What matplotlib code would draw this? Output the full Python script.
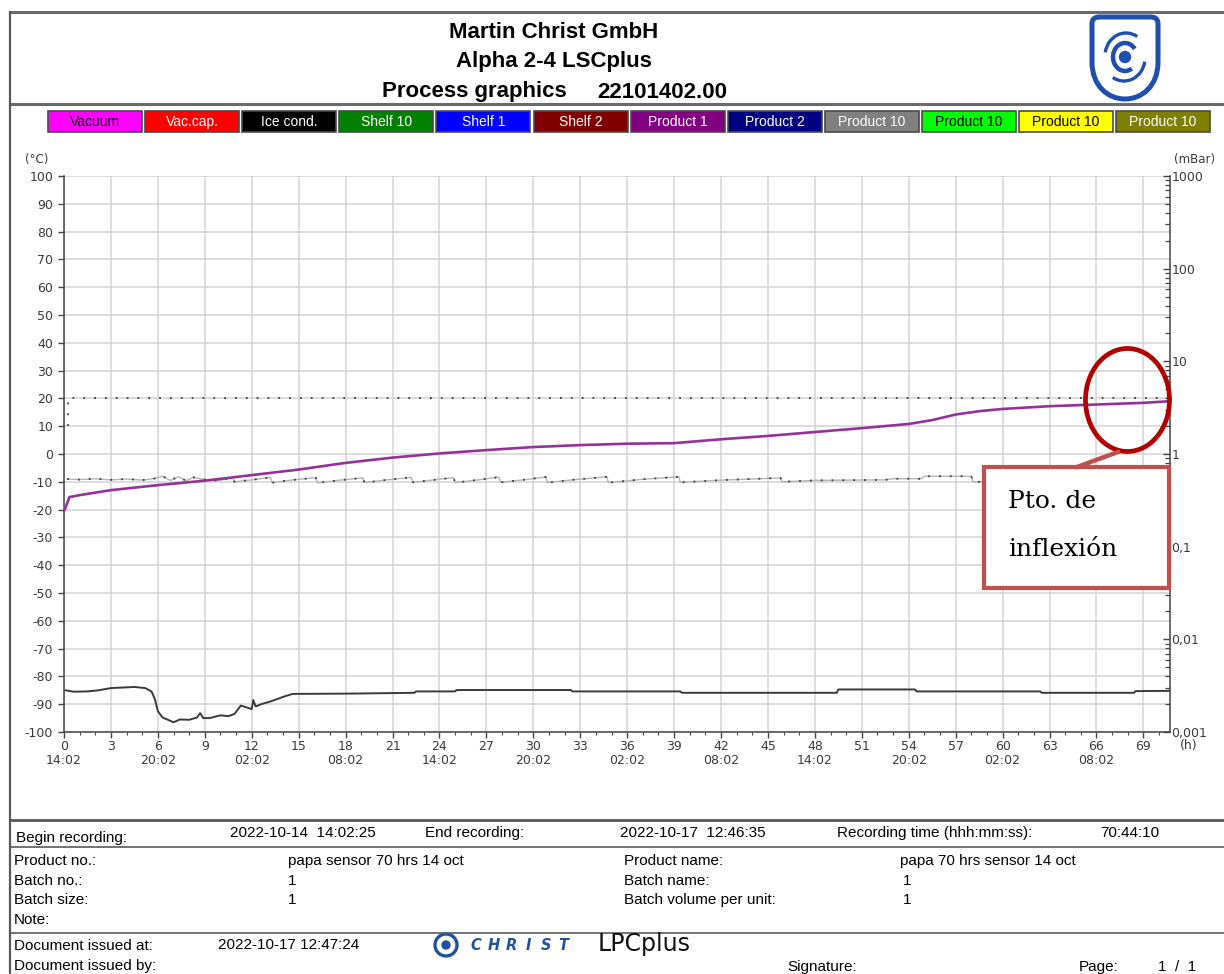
import matplotlib
matplotlib.use("Agg")
import matplotlib.pyplot as plt
from matplotlib.transforms import Affine2D
from matplotlib.lines import Line2D
from matplotlib.patches import Rectangle, Ellipse, Circle, Arc, PathPatch
from matplotlib.path import Path
from matplotlib.ticker import FixedLocator, LogLocator, NullFormatter, FuncFormatter

# ---------------- data ----------------
legend_names = ["Vacuum", "Vac.cap.", "Ice cond.", "Shelf 10", "Shelf 1", "Shelf 2",
                "Product 1", "Product 2", "Product 10", "Product 10", "Product 10", "Product 10"]
legend_colors = ["#FF00FF", "#FF0000", "#000000", "#008000", "#0000FF", "#800000",
                 "#800080", "#000080", "#808080", "#00FF00", "#FFFF00", "#808000"]
legend_text_colors = ["black", "white", "white", "white", "white", "white",
                      "white", "white", "white", "black", "black", "white"]

hour_ticks = list(range(0, 70, 3))
clock_labels = ["14:02", "20:02", "02:02", "08:02"]

product1_t = [0.05, 0.35, 1.0, 3.0, 6.0, 9.0, 12.0, 15.0, 18.0, 21.0, 24.0, 27.0, 30.0, 33.0,
              36.0, 39.0, 42.0, 45.0, 48.0, 51.0, 54.0, 55.5, 57.0, 58.5, 60.0, 63.0, 66.0,
              69.0, 70.7]
product1_v = [-20.0, -15.5, -14.8, -13.0, -11.2, -9.6, -7.6, -5.6, -3.2, -1.3, 0.2, 1.4, 2.5,
              3.2, 3.7, 3.9, 5.3, 6.5, 7.9, 9.3, 10.8, 12.2, 14.2, 15.4, 16.2, 17.2, 17.8,
              18.4, 19.0]

ice_t = [0.1, 0.6, 1.5, 2.2, 3.0, 4.5, 5.2, 5.6, 5.8, 6.0, 6.3, 6.6, 7.0, 7.4, 8.0, 8.5, 8.7,
         8.9, 9.3, 10.0, 10.5, 10.9, 11.3, 11.7, 12.0, 12.1, 12.25, 12.6, 13.2, 13.7, 14.1,
         14.6, 18.0, 21.0, 22.4, 22.5, 25.0, 25.1, 32.4, 32.5, 39.4, 39.5, 49.4, 49.5, 54.4,
         54.5, 62.4, 62.5, 68.4, 68.5, 70.7]
ice_v = [-85.0, -85.5, -85.4, -85.0, -84.2, -83.8, -84.2, -85.5, -88.0, -92.5, -94.8, -95.5,
         -96.5, -95.5, -95.6, -94.8, -93.2, -95.0, -95.0, -94.0, -94.3, -93.5, -90.5, -91.2,
         -91.8, -88.5, -90.8, -90.0, -89.0, -88.0, -87.2, -86.3, -86.2, -86.0, -85.9, -85.4,
         -85.4, -84.9, -84.9, -85.4, -85.4, -85.9, -85.9, -84.7, -84.7, -85.4, -85.4, -85.9,
         -85.9, -85.3, -85.2]

shelf_t = [0.2, 1.0, 2.0, 3.0, 4.0, 5.0, 5.8, 6.3, 6.8, 7.3, 7.8, 8.3, 9.0, 9.8, 10.8, 10.9,
           12.0, 13.2, 13.3, 14.5, 16.1, 16.2, 17.5, 19.1, 19.2, 20.5, 22.2, 22.3, 23.5, 24.9,
           25.0, 26.5, 27.8, 27.9, 29.5, 30.8, 30.9, 32.5, 34.7, 34.8, 37.0, 39.3, 39.4, 42.0,
           45.8, 45.9, 48.0, 52.5, 53.0, 54.8, 55.0, 58.0, 58.1, 70.7]
shelf_v = [-9.0, -9.2, -8.9, -9.3, -9.0, -9.4, -8.8, -8.0, -9.5, -8.2, -9.6, -8.4, -9.2, -9.6,
           -8.6, -10.0, -9.3, -8.4, -10.3, -9.4, -8.5, -10.4, -9.5, -8.6, -10.3, -9.4, -8.4,
           -10.2, -9.4, -8.5, -10.3, -9.3, -8.3, -10.2, -9.2, -8.3, -10.3, -9.3, -8.2, -10.3,
           -9.1, -8.2, -10.2, -9.4, -8.6, -10.0, -9.5, -9.3, -8.9, -8.9, -8.0, -8.0, -10.0,
           -10.0]

setpoint_t = [0.25, 0.25, 70.7]
setpoint_v = [10.0, 20.0, 20.0]

# ---------------- figure ----------------
W, H = 1224, 974
fig = plt.figure(figsize=(W / 100, H / 100), dpi=100)
fig.patch.set_facecolor("white")
px = Affine2D().scale(1 / W, -1 / H).translate(0, 1) + fig.transFigure

def hline(y, x0=10, x1=W, lw=1.5, color="#5a5a5a"):
    fig.add_artist(Line2D([x0, x1], [y, y], transform=px, lw=lw, color=color))

# page frame
hline(12, lw=2.2, color="#6a6a6a")
hline(104, lw=2.2, color="#6a6a6a")
hline(820, lw=2.0)
hline(847, lw=1.2)
hline(933, lw=1.2)
fig.add_artist(Line2D([10, 10], [12, H], transform=px, lw=1.6, color="#5a5a5a"))

# header
sans = "Liberation Sans"
fig.text(554, 33, "Martin Christ GmbH", transform=px, ha="center", va="center",
         fontsize=16, fontweight="bold", family=sans)
fig.text(554, 62, "Alpha 2-4 LSCplus", transform=px, ha="center", va="center",
         fontsize=16, fontweight="bold", family=sans)
fig.text(382, 92, "Process graphics", transform=px, ha="left", va="center",
         fontsize=16, fontweight="bold", family=sans)
fig.text(727, 92, "22101402.00", transform=px, ha="right", va="center",
         fontsize=16, fontweight="bold", family=sans)

# company shield
blue = "#1f4fae"
shield = Path([(1092, 24), (1092, 18), (1096, 17), (1100, 17), (1150, 17),
               (1154, 17), (1158, 18), (1158, 24), (1158, 62),
               (1158, 86), (1142, 99), (1125, 99), (1108, 99), (1092, 86), (1092, 62),
               (1092, 24)],
              [Path.MOVETO, Path.CURVE4, Path.CURVE4, Path.CURVE4, Path.LINETO,
               Path.CURVE4, Path.CURVE4, Path.CURVE4, Path.LINETO,
               Path.CURVE4, Path.CURVE4, Path.CURVE4, Path.CURVE4, Path.CURVE4, Path.CURVE4,
               Path.CLOSEPOLY])
fig.add_artist(PathPatch(shield, transform=px, facecolor="white", edgecolor=blue, lw=3.6))
fig.add_artist(Circle((1125, 57), 5.5, transform=px, color=blue))
fig.add_artist(Arc((1125, 57), 24, 28, theta1=60, theta2=320, transform=px, color=blue, lw=3.2))
fig.add_artist(Arc((1126, 56), 42, 46, theta1=190, theta2=300, transform=px, color=blue, lw=2.4))
fig.add_artist(Arc((1124, 58), 42, 46, theta1=10, theta2=120, transform=px, color=blue, lw=2.4))

# series legend boxes
bx0, bw, gap = 48, 94, 3.1
for i, (name, fc, tc) in enumerate(zip(legend_names, legend_colors, legend_text_colors)):
    x = bx0 + i * (bw + gap)
    fig.add_artist(Rectangle((x, 111), bw, 21, transform=px, facecolor=fc,
                             edgecolor="#4a4a4a", lw=1.2))
    fig.text(x + bw / 2, 126, name, transform=px, ha="center", va="baseline",
             fontsize=10, color=tc, family=sans)

# ---------------- chart ----------------
ax = fig.add_axes([64 / W, 1 - 732 / H, (1170 - 64) / W, (732 - 176) / H])
ax.set_xlim(0, 70.7)
ax.set_ylim(-100, 100)

ax.plot(shelf_t, shelf_v, color="#b5b5b5", lw=1.0, zorder=2)
ax.plot(shelf_t, shelf_v, color="#3c3c3c", lw=1.3, linestyle=(0, (1, 5)), zorder=3)
ax.plot(setpoint_t, setpoint_v, color="#3c3c3c", lw=1.3, linestyle=(0, (1, 5)), zorder=3)
ax.plot(ice_t, ice_v, color="#3a3a3a", lw=1.4, zorder=3)
ax.plot(product1_t, product1_v, color="#96319a", lw=1.9, zorder=4)

tick_col = "#3a3a3a"
ax.xaxis.set_major_locator(FixedLocator(hour_ticks))
xlabels = []
for h in hour_ticks:
    if h % 6 == 0:
        xlabels.append(f"{h}\n{clock_labels[(h // 6) % 4]}")
    else:
        xlabels.append(f"{h}")
ax.set_xticklabels(xlabels, fontsize=9, color=tick_col, va="top", linespacing=1.15)
ax.xaxis.set_minor_locator(FixedLocator(range(0, 71)))
ax.yaxis.set_major_locator(FixedLocator(range(-100, 101, 10)))
ax.set_yticklabels([str(v) for v in range(-100, 101, 10)], fontsize=9, color=tick_col)
ax.tick_params(axis="y", which="major", direction="out", length=4.3, width=1.0,
               color="#444", pad=3.5)
ax.tick_params(axis="x", which="major", direction="out", length=4, width=1.0,
               color="#444", pad=1.5)
ax.tick_params(axis="x", which="minor", direction="out", length=2.5, width=0.8, color="#444")
ax.grid(True, which="major", color="#d3d3d3", lw=1.1)
ax.set_axisbelow(True)
for s in ("top", "right"):
    ax.spines[s].set_visible(False)
for s in ("left", "bottom"):
    ax.spines[s].set_color("#444")
    ax.spines[s].set_linewidth(1.1)

# pressure axis on the right
ax2 = ax.twinx()
ax2.set_yscale("log")
ax2.set_ylim(1e-3, 1e3)
for s in ("top", "left", "bottom"):
    ax2.spines[s].set_visible(False)
ax2.spines["right"].set_color("#444")
ax2.spines["right"].set_linewidth(1.1)
ax2.yaxis.set_major_locator(LogLocator(base=10, numticks=10))
ax2.yaxis.set_minor_locator(LogLocator(base=10, subs=range(2, 10), numticks=20))
ax2.yaxis.set_minor_formatter(NullFormatter())
ax2.yaxis.set_major_formatter(FuncFormatter(
    lambda v, p: ("%g" % v).replace(".", ",")))
ax2.tick_params(axis="y", which="major", direction="in", length=5, width=1.0,
                color="#444", labelsize=9, labelcolor=tick_col, pad=1)
ax2.tick_params(axis="y", which="minor", direction="in", length=3.5, width=0.9, color="#444")

# axis unit captions
fig.text(25, 160, "(°C)", transform=px, ha="left", va="center", fontsize=8.5, color=tick_col)
fig.text(1174, 160, "(mBar)", transform=px, ha="left", va="center", fontsize=8.5, color=tick_col)
fig.text(1180, 745, "(h)", transform=px, ha="left", va="center", fontsize=9, color=tick_col)

# inflection point callout
red = "#c0504d"
fig.add_artist(Line2D([1077, 1118], [467, 452], transform=px, color=red, lw=3.2))
fig.add_artist(Ellipse((1127.5, 400), 84, 103, transform=px, facecolor="none",
                       edgecolor="#b00000", lw=3.4))
fig.add_artist(Rectangle((984, 467), 185, 121, transform=px, facecolor="white",
                         edgecolor=red, lw=3.0))
fig.text(1008, 501, "Pto. de", transform=px, ha="left", va="center", fontsize=18,
         family="DejaVu Serif")
fig.text(1008, 549, "inflexión", transform=px, ha="left", va="center", fontsize=18,
         family="DejaVu Serif")

# ---------------- footer ----------------
fs = 11
def ftext(x, y, s, **kw):
    fig.text(x, y, s, transform=px, ha="left", va="baseline", fontsize=fs, family=sans, **kw)

ftext(16, 842, "Begin recording:")
ftext(230, 837, "2022-10-14  14:02:25")
ftext(425, 837, "End recording:")
ftext(620, 837, "2022-10-17  12:46:35")
ftext(837, 837, "Recording time (hhh:mm:ss):")
ftext(1100, 837, "70:44:10")

ftext(14, 865, "Product no.:")
ftext(288, 865, "papa sensor 70 hrs 14 oct")
ftext(624, 865, "Product name:")
ftext(900, 865, "papa 70 hrs sensor 14 oct")
ftext(14, 885, "Batch no.:")
ftext(288, 885, "1")
ftext(624, 885, "Batch name:")
ftext(903, 885, "1")
ftext(14, 904, "Batch size:")
ftext(288, 904, "1")
ftext(624, 904, "Batch volume per unit:")
ftext(903, 904, "1")
ftext(14, 924, "Note:")

ftext(14, 950, "Document issued at:")
ftext(218, 949, "2022-10-17 12:47:24")
ftext(14, 970, "Document issued by:")
ftext(787, 971, "Signature:")
ftext(1079, 971, "Page:")
ftext(1158, 971, "1  /  1")

# LPCplus mark
logo_blue = "#24529a"
fig.add_artist(Circle((446, 945), 11, transform=px, facecolor="none", edgecolor=logo_blue, lw=2.4))
fig.add_artist(Circle((446, 945), 4, transform=px, color=logo_blue))
for k, ch in enumerate("CHRIST"):
    fig.text(476 + k * 17.5, 945, ch, transform=px, ha="center", va="center", fontsize=10.5,
             fontweight="bold", fontstyle="italic", color=logo_blue, family="DejaVu Sans")
fig.text(598, 944, "LPCplus", transform=px, ha="left", va="center", fontsize=17,
         family="DejaVu Sans", color="#111")

fig.savefig("out.png", dpi=100, facecolor="white")
